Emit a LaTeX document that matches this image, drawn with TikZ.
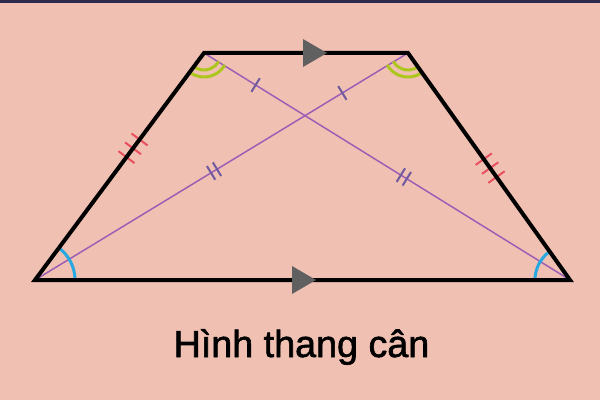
\documentclass[tikz,border=0pt]{standalone}
\usepackage{fontspec}
\setmainfont{Liberation Sans}
\newfontfamily\capfont{Liberation Sans}[FakeBold=1.6]
\usetikzlibrary{calc}
\definecolor{bgc}{RGB}{240,193,178}
\definecolor{barc}{RGB}{43,43,75}
\definecolor{diagc}{RGB}{157,95,181}
\definecolor{tickc}{RGB}{111,90,160}
\definecolor{redc}{RGB}{232,80,95}
\definecolor{greenc}{RGB}{172,198,30}
\definecolor{bluec}{RGB}{40,168,224}
\definecolor{grayc}{RGB}{96,96,96}
\newcommand\mytick[4]{\draw[#4] ($(#1)!#3!90:(#2)$) -- ($(#1)!#3!-90:(#2)$);}
\begin{document}
\begin{tikzpicture}[x=1pt,y=1pt,
  edge/.style={line width=4pt, line join=miter, draw=black},
  diag/.style={draw=diagc, line width=1.5pt},
  ptick/.style={draw=tickc, line width=2pt},
  rtick/.style={draw=redc, line width=2pt},
  garc/.style={draw=greenc, line width=3pt},
  barcs/.style={draw=bluec, line width=3pt},
  head/.style={fill=grayc}]
\fill[bgc] (0,0) rectangle (600,400);
\fill[barc] (0,397) rectangle (600,400);
\useasboundingbox (0,0) rectangle (600,400);
\coordinate (A) at (35,120);
\coordinate (B) at (570,120);
\coordinate (C) at (408,347);
\coordinate (D) at (204,347);
% diagonals
\draw[diag] (A) -- (C);
\draw[diag] (D) -- (B);
% ticks on diagonals
\coordinate (s1) at ($(A)!0.824!(C)$);
\mytick{s1}{C}{8pt}{ptick}
\coordinate (s2) at ($(D)!0.141!(B)$);
\mytick{s2}{B}{8pt}{ptick}
\coordinate (d1) at ($(A)!0.48!(C)$);
\coordinate (d1a) at ($(d1)!3.5pt!(C)$);
\coordinate (d1b) at ($(d1)!-3.5pt!(C)$);
\mytick{d1a}{C}{8pt}{ptick}
\mytick{d1b}{C}{8pt}{ptick}
\coordinate (d2) at ($(D)!0.546!(B)$);
\coordinate (d2a) at ($(d2)!3.5pt!(B)$);
\coordinate (d2b) at ($(d2)!-3.5pt!(B)$);
\mytick{d2a}{B}{8pt}{ptick}
\mytick{d2b}{B}{8pt}{ptick}
% triple ticks on legs
\coordinate (l1) at ($(A)!0.58!(D)$);
\coordinate (l1a) at ($(l1)!11pt!(D)$);
\coordinate (l1b) at ($(l1)!-11pt!(D)$);
\mytick{l1}{D}{10pt}{rtick}
\mytick{l1a}{D}{10pt}{rtick}
\mytick{l1b}{D}{10pt}{rtick}
\coordinate (l2) at ($(B)!0.493!(C)$);
\coordinate (l2a) at ($(l2)!11pt!(C)$);
\coordinate (l2b) at ($(l2)!-11pt!(C)$);
\mytick{l2}{C}{10pt}{rtick}
\mytick{l2a}{C}{10pt}{rtick}
\mytick{l2b}{C}{10pt}{rtick}
% angle arcs
\draw[barcs] ($(A)+(40,0)$) arc[start angle=0, end angle=53.3, radius=40];
\draw[barcs] ($(B)+(-35,0)$) arc[start angle=180, end angle=125.5, radius=35];
\draw[garc] ($(D)+(233.3:17)$) arc[start angle=233.3, end angle=330, radius=17];
\draw[garc] ($(D)+(233.3:24)$) arc[start angle=233.3, end angle=330, radius=24];
\draw[garc] ($(C)+(306.7:17)$) arc[start angle=306.7, end angle=210, radius=17];
\draw[garc] ($(C)+(306.7:24)$) arc[start angle=306.7, end angle=210, radius=24];
% trapezoid
\draw[edge] (A) -- (B) -- (C) -- (D) -- cycle;
% direction arrowheads
\fill[head] (303,333) -- (327,347) -- (303,361) -- cycle;
\fill[head] (292,106) -- (316,120) -- (292,134) -- cycle;
% caption
\node[font=\capfont\fontsize{37.7}{45}\selectfont, anchor=base, inner sep=0pt] (title) at (301.5,43) {Hình thang cân};
\end{tikzpicture}
\end{document}
